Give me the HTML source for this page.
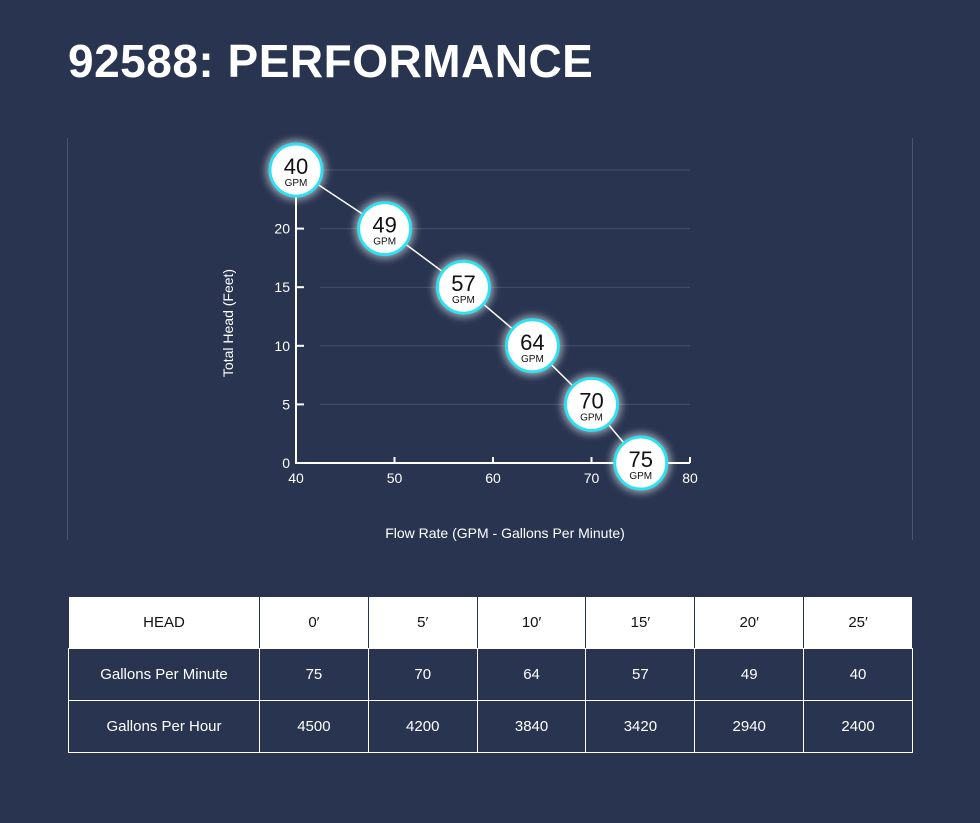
<!DOCTYPE html>
<html><head><meta charset="utf-8"><style>
body{margin:0;width:980px;height:823px;background:#283450;font-family:"Liberation Sans",sans-serif;color:#fff;position:relative;overflow:hidden}
h1{position:absolute;left:68px;top:34px;margin:0;font-size:46px;font-weight:bold;letter-spacing:0.5px}
.vline{position:absolute;top:138px;height:402px;width:1px;background:#4a5670}
table{position:absolute;left:68px;top:596px;width:845px;border-collapse:collapse;font-size:15px}
td{border:1px solid #fff;text-align:center;height:51px;padding:0}
tr.h td{background:#fff;color:#111;border-color:#283450 #283450 #fff #283450;border-left:1px solid #283450}
</style></head><body>
<h1>92588: PERFORMANCE</h1>
<div class="vline" style="left:67px"></div>
<div class="vline" style="left:912px"></div>
<svg id="chart" width="980" height="560" style="position:absolute;left:0;top:0">
<defs><filter id="glow" x="-50%" y="-50%" width="200%" height="200%"><feGaussianBlur stdDeviation="4"/></filter></defs>
</svg>
<table>
<tr class="h"><td style="width:190px">HEAD</td><td>0′</td><td>5′</td><td>10′</td><td>15′</td><td>20′</td><td>25′</td></tr>
<tr><td>Gallons Per Minute</td><td>75</td><td>70</td><td>64</td><td>57</td><td>49</td><td>40</td></tr>
<tr><td>Gallons Per Hour</td><td>4500</td><td>4200</td><td>3840</td><td>3420</td><td>2940</td><td>2400</td></tr>
</table>
<script>
const flowValues=[40,49,57,64,70,75];
const headValues=[25,20,15,10,5,0];
const xTicks=[40,50,60,70,80];
const yTicks=[0,5,10,15,20];
const NS="http://www.w3.org/2000/svg";
const svg=document.getElementById('chart');
const X=v=>296+(v-40)*(690-296)/40;
const Y=v=>463-v*(463-170)/25;
function mk(t,a,p){const e=document.createElementNS(NS,t);for(const k in a)e.setAttribute(k,a[k]);(p||svg).appendChild(e);return e;}
[5,10,15,20,25].forEach(v=>{const g=mk('line',{x1:320,x2:690,y1:Y(v),y2:Y(v),stroke:'#45526c','stroke-width':1});

});
const ax=mk('path',{d:`M${X(40)},${Y(25)}V${Y(0)}H${X(80)}`,stroke:'#fff','stroke-width':2,fill:'none'});


xTicks.forEach(v=>{mk('line',{x1:X(v),x2:X(v),y1:Y(0),y2:Y(0)-6,stroke:'#fff','stroke-width':2});
const t=mk('text',{x:X(v),y:Y(0)+20,fill:'#fff','font-size':14,'text-anchor':'middle'});t.textContent=v;

});
yTicks.forEach(v=>{mk('line',{x1:X(40),x2:X(40)+8,y1:Y(v),y2:Y(v),stroke:'#fff','stroke-width':2});
const t=mk('text',{x:X(40)-6,y:Y(v)+5,fill:'#fff','font-size':14,'text-anchor':'end'});t.textContent=v;

});
const yt=mk('text',{transform:'translate(233,323) rotate(-90)',fill:'#fff','font-size':14,'text-anchor':'middle'});yt.textContent='Total Head (Feet)';


const xt=mk('text',{x:505,y:538,fill:'#fff','font-size':14,'text-anchor':'middle'});xt.textContent='Flow Rate (GPM - Gallons Per Minute)';


const ln=mk('polyline',{points:flowValues.map((f,i)=>X(f)+','+Y(headValues[i])).join(' '),stroke:'#fff','stroke-width':1.5,fill:'none'});


flowValues.forEach((f,i)=>{const g=mk('g',{});


const cx=X(f),cy=Y(headValues[i]);
mk('circle',{cx,cy,r:30,fill:'#ffffff',opacity:0.55,filter:'url(#glow)'},g);
mk('circle',{cx,cy,r:26,fill:'#fff',stroke:'#2ee0f0','stroke-width':3},g);
const a=mk('text',{x:cx,y:cy+4,fill:'#111','font-size':22,'text-anchor':'middle'},g);a.textContent=f;
const b=mk('text',{x:cx,y:cy+16,fill:'#111','font-size':10,'text-anchor':'middle'},g);b.textContent='GPM';});
</script>
</body></html>
